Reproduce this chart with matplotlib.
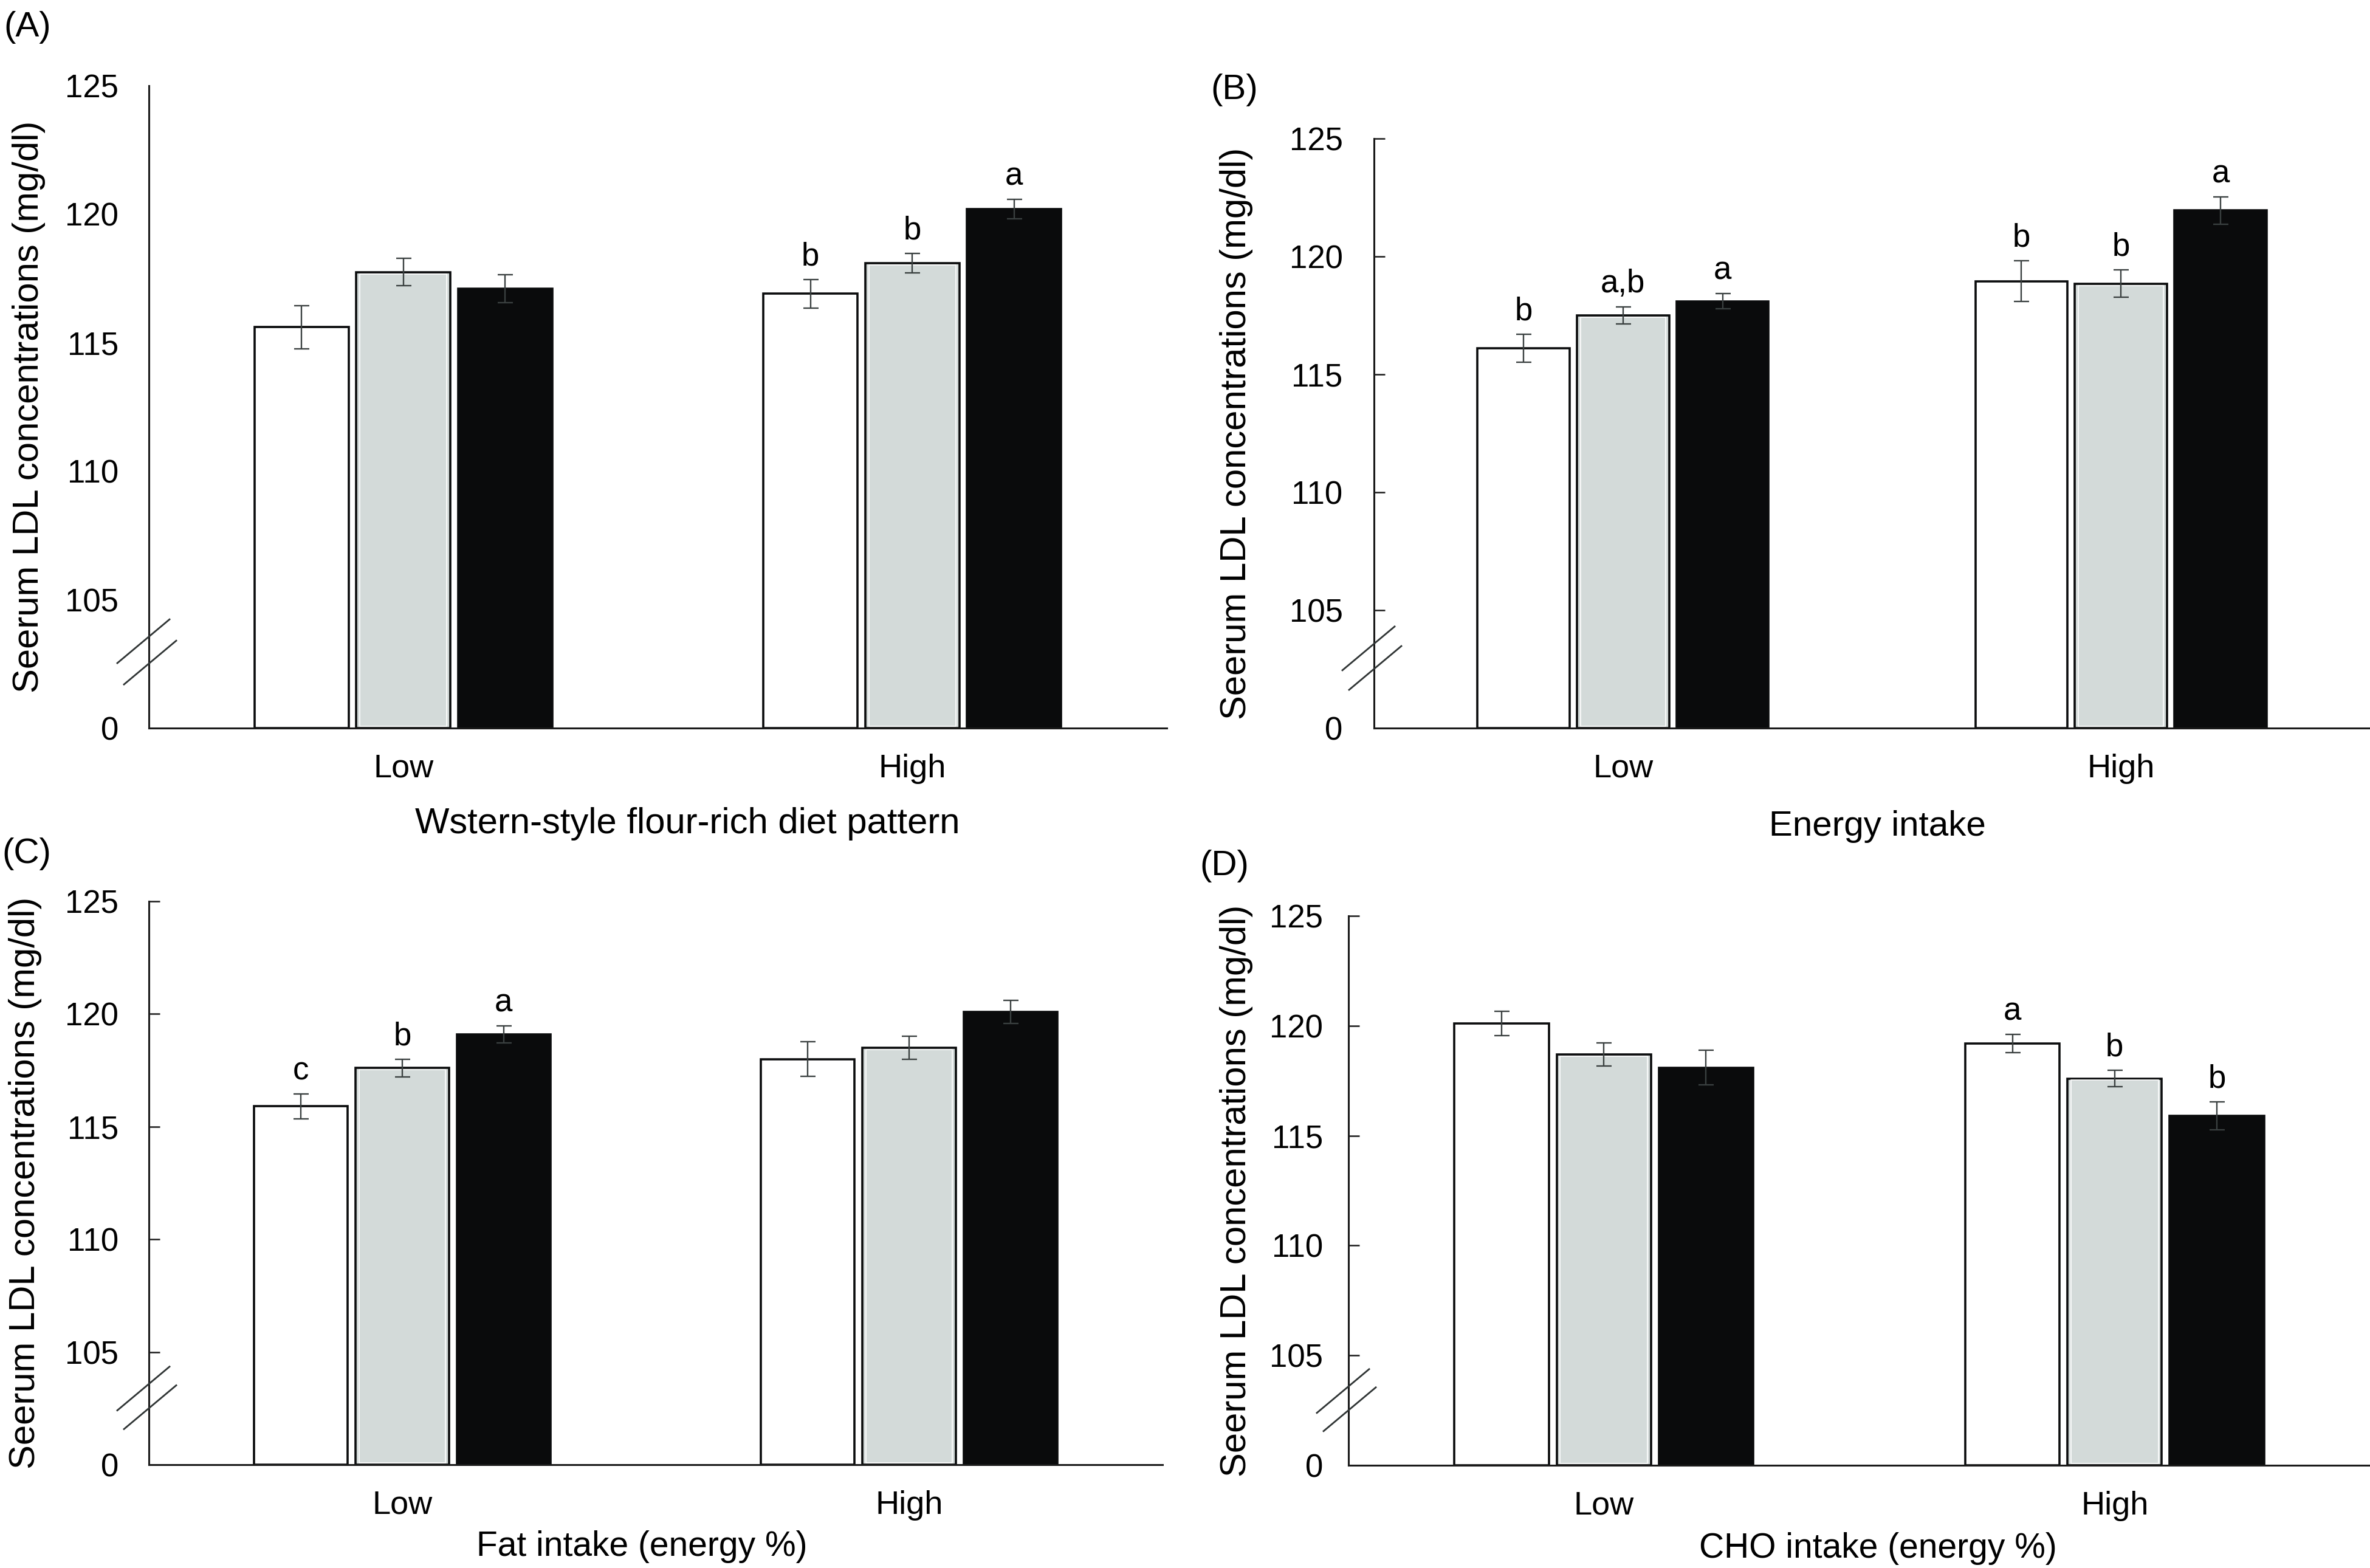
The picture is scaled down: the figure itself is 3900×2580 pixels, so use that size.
import matplotlib
matplotlib.use('Agg')
import matplotlib.pyplot as plt
import numpy as np
from matplotlib import font_manager
from matplotlib.lines import Line2D

W, H, DPI = 3900, 2580, 100

installed = {f.name for f in font_manager.fontManager.ttflist}
FONT = 'Liberation Sans' if 'Liberation Sans' in installed else 'DejaVu Sans'
plt.rcParams['font.family'] = [FONT, 'DejaVu Sans']

levels = ['Low', 'High']
bar_colors = ['#ffffff', '#d3dad9', '#0a0b0c']
ytick_vals = [0, 105, 110, 115, 120, 125]
ylabel = 'Seerum LDL concentrations (mg/dl)'

# serum LDL (mg/dl): one row per intake level, one column per subgroup
a_mean = [[115.6, 117.75, 117.1], [116.9, 118.1, 120.2]]
a_err = [[0.84, 0.54, 0.54], [0.55, 0.38, 0.38]]
a_sig = [['', '', ''], ['b', 'b', 'a']]

b_mean = [[116.1, 117.5, 118.1], [118.95, 118.85, 121.95]]
b_err = [[0.59, 0.37, 0.32], [0.87, 0.58, 0.58]]
b_sig = [['b', 'a,b', 'a'], ['b', 'b', 'a']]

c_mean = [[115.9, 117.6, 119.1], [118.0, 118.5, 120.1]]
c_err = [[0.55, 0.39, 0.38], [0.76, 0.52, 0.51]]
c_sig = [['c', 'b', 'a'], ['', '', '']]

d_mean = [[120.1, 118.7, 118.1], [119.2, 117.6, 115.9]]
d_err = [[0.55, 0.52, 0.78], [0.41, 0.37, 0.63]]
d_sig = [['', '', ''], ['a', 'b', 'b']]

panels = [
    dict(tag='(A)', tag_xy=(6, 45), box=(245, 1920, 141, 1198), mean=a_mean, err=a_err, sig=a_sig,
         xlabel='Wstern-style flour-rich diet pattern', xlab_xy=(1131, 1355), xlab_size=43,
         ylab_x=48, tick_len=0, tick_pad=36),
    dict(tag='(B)', tag_xy=(1992, 148), box=(2261, 3900, 228, 1198), mean=b_mean, err=b_err, sig=b_sig,
         xlabel='Energy intake', xlab_xy=(3089, 1360), xlab_size=42,
         ylab_x=2035, tick_len=13, tick_pad=37),
    dict(tag='(C)', tag_xy=(3, 1405), box=(245, 1913, 1483, 2410), mean=c_mean, err=c_err, sig=c_sig,
         xlabel='Fat intake (energy %)', xlab_xy=(1056, 2545), xlab_size=41,
         ylab_x=42, tick_len=13, tick_pad=36),
    dict(tag='(D)', tag_xy=(1974, 1425), box=(2219, 3900, 1507, 2411), mean=d_mean, err=d_err, sig=d_sig,
         xlabel='CHO intake (energy %)', xlab_xy=(3090, 2548), xlab_size=41,
         ylab_x=2035, tick_len=13, tick_pad=30),
]

fig = plt.figure(figsize=(W / DPI, H / DPI), dpi=DPI)
fig.patch.set_facecolor('white')

width = 0.185
offsets = [-0.2, 0.0, 0.2]
centers = np.arange(len(levels)) + 0.5

for p in panels:
    left, right, top, bottom = p['box']
    ax = fig.add_axes([left / W, 1 - bottom / H, (right - left) / W, (bottom - top) / H])
    ax.set_xlim(0, 2)
    ax.set_ylim(0, 25)

    mean = np.array(p['mean'])
    err = np.array(p['err'])
    # broken axis: 0 sits one tick step below 105, so plot value - 100
    heights = mean - 100

    for i in range(3):
        xs = centers + offsets[i]
        hs = heights[:, i]
        ax.bar(xs, hs, width, color=bar_colors[i],
               edgecolor='#0a0b0c' if i < 2 else bar_colors[i], linewidth=2.6, zorder=2)
        if i == 1:
            ax.bar(xs, hs - 0.16, width - 0.014, bottom=0.08, fill=False,
                   edgecolor='white', linewidth=1.2, zorder=2.1)
        ax.errorbar(xs, hs, yerr=err[:, i], fmt='none', ecolor='#3a4040',
                    elinewidth=1.7, capsize=9, capthick=1.7, zorder=3)
        for g in range(len(levels)):
            s = p['sig'][g][i]
            if s:
                ax.annotate(s, (xs[g], hs[g] + err[g, i]), xytext=(0, 9),
                            textcoords='offset points', ha='center', va='bottom',
                            fontsize=38)

    ax.set_yticks([v - 100 if v else 0 for v in ytick_vals])
    ax.set_yticklabels([str(v) for v in ytick_vals])
    ax.set_xticks(centers)
    ax.set_xticklabels(levels)
    ax.tick_params(axis='y', direction='in', length=p['tick_len'], width=1.8,
                   pad=p['tick_pad'], labelsize=38, color='#1a1a1a')
    ax.tick_params(axis='x', length=0, pad=30, labelsize=39)

    for side in ['top', 'right']:
        ax.spines[side].set_visible(False)
    for side in ['left', 'bottom']:
        ax.spines[side].set_linewidth(2.2)
        ax.spines[side].set_color('#1a1a1a')
        ax.spines[side].set_zorder(4)

    ax.set_ylabel(ylabel, fontsize=43)
    ax.yaxis.label.set_va('center')
    ax.yaxis.set_label_coords(p['ylab_x'] / W, 1 - (top + bottom) / 2 / H, transform=fig.transFigure)

    ax.set_xlabel(p['xlabel'], fontsize=p['xlab_size'])
    ax.xaxis.label.set_va('center')
    ax.xaxis.set_label_coords(p['xlab_xy'][0] / W, 1 - p['xlab_xy'][1] / H, transform=fig.transFigure)

    fig.text(p['tag_xy'][0] / W, 1 - p['tag_xy'][1] / H, p['tag'], fontsize=42,
             ha='left', va='center')

    # axis break marks: two short slanted strokes across the y axis
    for yc, shift in ((2.55, 2), (3.38, -9)):
        cx, cy = ax.transData.transform((0, yc))
        pts = np.array([[cx + shift - 43, cy - 36], [cx + shift + 43, cy + 36]])
        fpts = fig.transFigure.inverted().transform(pts)
        fig.add_artist(Line2D(fpts[:, 0], fpts[:, 1], color='#2f3434', linewidth=2.0))

fig.savefig('out.png', dpi=DPI, facecolor='white')
